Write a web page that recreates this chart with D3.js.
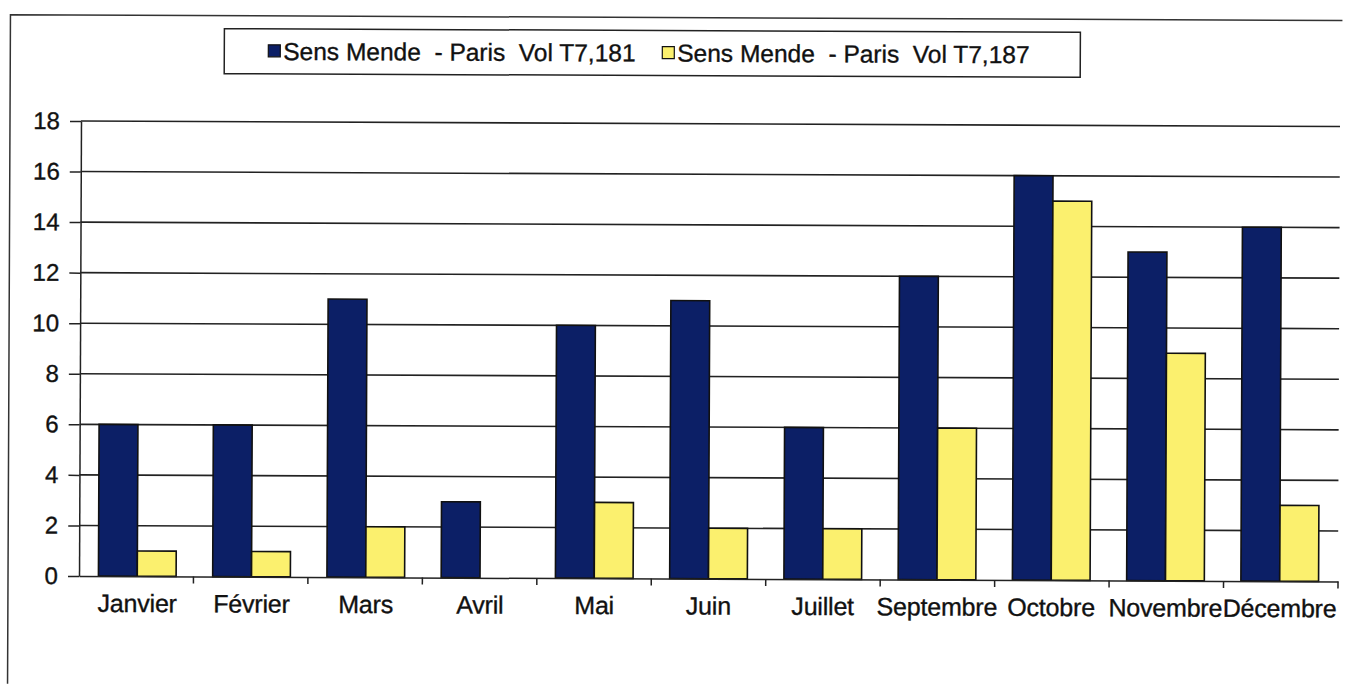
<!DOCTYPE html>
<html>
  <head>
    <meta charset="utf-8" />
    <title>Sens Mende - Paris</title>
    <style>
      body { margin: 0; background: #fff; font-family: 'Liberation Sans', Arial, sans-serif; }
      .grid line { stroke: #222; stroke-width: 1.6px; }
      .axis text { fill: #111; stroke: #111; stroke-width: 0.35px; }
      .axis path, .axis line { stroke: #222; stroke-width: 1.5px; }
      .legend text { fill: #111; stroke: #111; stroke-width: 0.35px; }
    </style>
    <script src="https://d3js.org/d3.v7.min.js"></script>
  </head>
  <body>
    <div id="chart"></div>
    <script>
      const months = ["Janvier", "Février", "Mars", "Avril", "Mai", "Juin", "Juillet",
                      "Septembre", "Octobre", "Novembre", "Décembre"];
      const series = ["Sens Mende  - Paris  Vol T7,181", "Sens Mende  - Paris  Vol T7,187"];
      const vol181 = [6, 6, 11, 3, 10, 11, 6, 12, 16, 13, 14];
      const vol187 = [1, 1, 2, 0, 3, 2, 2, 6, 15, 9, 3];
      const yTicks = [0, 2, 4, 6, 8, 10, 12, 14, 16, 18];
      const colors = ["#0c1f66", "#fbf06e"];

      const W = 1350, H = 684;
      const margin = { top: 121, right: 10, bottom: 108, left: 81 };
      const width = W - margin.left - margin.right;
      const height = H - margin.top - margin.bottom;

      const svg = d3.select("#chart").append("svg")
        .attr("width", W).attr("height", H);

      // scanned page is slightly tilted
      const page = svg.append("g").attr("transform", "rotate(0.25, 80, 120)");

      // outer chart border
      page.append("path")
        .attr("d", "M10,684 L10,15 L1342,15")
        .attr("fill", "none").attr("stroke", "#333").attr("stroke-width", 1.5);

      const g = page.append("g")
        .attr("transform", `translate(${margin.left},${margin.top})`);

      const x = d3.scaleBand().domain(months).range([0, width])
        .paddingInner(0.32).paddingOuter(0.17);
      const x1 = d3.scaleBand().domain([0, 1]).range([0, x.bandwidth()]);
      const y = d3.scaleLinear().domain([0, 18]).range([height, 0]);

      // gridlines
      g.append("g").attr("class", "grid")
        .selectAll("line").data(yTicks.filter(d => d > 0)).join("line")
        .attr("x1", 0).attr("x2", width)
        .attr("y1", d => y(d)).attr("y2", d => y(d));

      // bars
      const data = months.map((m, i) => ({ m, v: [vol181[i], vol187[i]] }));
      const grp = g.selectAll("g.month").data(data).join("g")
        .attr("class", "month")
        .attr("transform", d => `translate(${x(d.m)},0)`);
      grp.selectAll("rect").data(d => d.v.map((v, k) => ({ v, k }))).join("rect")
        .attr("x", d => x1(d.k))
        .attr("width", x1.bandwidth())
        .attr("y", d => y(d.v))
        .attr("height", d => height - y(d.v))
        .attr("fill", d => colors[d.k])
        .attr("stroke", "#111")
        .attr("stroke-width", 1.6);

      // y axis
      g.append("g").attr("class", "axis")
        .call(d3.axisLeft(y).tickValues(yTicks).tickSize(11).tickPadding(10).tickSizeOuter(0))
        .call(s => s.selectAll("text").attr("font-size", 24));

      // x axis
      const xa = g.append("g").attr("class", "axis")
        .attr("transform", `translate(0,${height})`)
        .call(d3.axisBottom(x).tickSize(0).tickPadding(18).tickSizeOuter(0));
      xa.selectAll("text").attr("font-size", 25).attr("letter-spacing", "-0.2px");
      // category separator ticks
      xa.selectAll("line.sep").data(d3.range(1, months.length + 1)).join("line")
        .attr("class", "sep")
        .attr("x1", i => i * width / months.length)
        .attr("x2", i => i * width / months.length)
        .attr("y1", 0).attr("y2", 7);

      // legend
      const leg = page.append("g").attr("class", "legend").attr("transform", "translate(224,28)");
      leg.append("rect").attr("width", 856).attr("height", 45)
        .attr("fill", "#fff").attr("stroke", "#222").attr("stroke-width", 1.5);
      const legX = [44, 438];
      series.forEach((s, i) => {
        leg.append("rect").attr("x", legX[i]).attr("y", 16).attr("width", 12).attr("height", 12)
          .attr("fill", colors[i]).attr("stroke", "#111").attr("stroke-width", 1.2);
        leg.append("text").attr("x", legX[i] + 15).attr("y", 31)
          .attr("font-size", 24.5)
          .style("white-space", "pre").attr("xml:space", "preserve")
          .text(s);
      });
    </script>
  </body>
</html>
